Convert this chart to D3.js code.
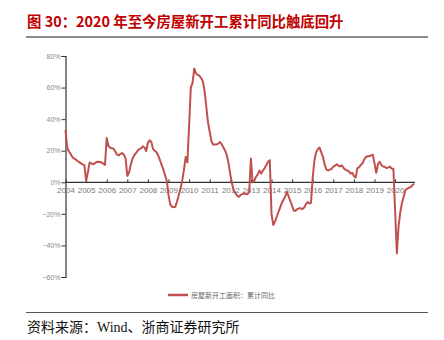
<!DOCTYPE html>
<html>
<head>
<meta charset="utf-8">
<script src="https://cdn.jsdelivr.net/npm/d3@7"></script>
<style>
  html, body { margin: 0; padding: 0; background: #fff; }
  svg { display: block; }
</style>
</head>
<body>
<svg id="chart" width="444" height="340"></svg>
<script>
// Monthly cumulative YoY growth of new housing starts (%), Jan 2004 – Dec 2020
const years = [2004, 2005, 2006, 2007, 2008, 2009, 2010, 2011, 2012,
               2013, 2014, 2015, 2016, 2017, 2018, 2019, 2020];
const v2004 = [33, 22, 19.5, 18, 16, 15, 14.5, 13.5, 12.8, 12, 11.3, 10.8];
const v2005 = [1, 6, 12.5, 12, 11.4, 12, 12.8, 13, 12.8, 12.5, 11.8, 11];
const v2006 = [28, 23, 22, 21.5, 21.3, 19.5, 17.5, 17, 18, 18.5, 17.5, 15];
const v2007 = [4, 6, 11, 15, 17, 18.5, 20, 21, 21.5, 22.8, 22, 19.8];
const v2008 = [25, 26.6, 25.5, 21, 20, 19, 17, 14, 11, 8, 4.5, 1];
const v2009 = [-8, -14, -15.5, -15.8, -15.5, -12, -8, -4, 1, 8, 16, 12.6];
const v2010 = [36, 60, 63, 72, 69, 68, 67.5, 66, 64, 58, 48, 38];
const v2011 = [32, 26, 24, 24, 24, 24.5, 25.5, 24, 22, 20, 17, 12];
const v2012 = [5, -1, -5, -7, -8.5, -9.3, -8, -7.5, -7, -7.5, -7.6, -6];
const v2013 = [15, 0, 1, 3.5, 5, 7.5, 5.5, 7.5, 9, 11, 13, 14];
const v2014 = [-20, -27, -25, -22, -19, -16, -13, -11, -9, -6, -9, -12];
const v2015 = [-15, -18, -18, -17, -16.5, -16.5, -17, -16, -14, -12.5, -13.5, -13];
const v2016 = [3, 14, 19, 21, 22, 19, 16, 11, 8, 7.5, 8, 8.5];
const v2017 = [10, 10.5, 11.4, 10.5, 10, 10.8, 9, 8, 7.5, 7, 5.5, 6];
const v2018 = [4, 3, 9, 9.5, 11, 12, 14.5, 16, 16.5, 16.5, 17, 17.5];
const v2019 = [12, 6, 11.5, 13, 11, 10, 9.8, 9, 9.3, 10, 8.6, 8.5];
const v2020 = [-18, -45, -28, -19, -13, -9, -5, -4, -3.5, -3, -2, -0.8];

const yTicks = [80, 60, 40, 20, 0, -20, -40, -60];
const yTickLabels = ["80%", "60%", "40%", "20%", "0%", "−20%", "−40%", "−60%"];

const titleText = "图 30：2020 年至今房屋新开工累计同比触底回升";
const legendText = "房屋新开工面积：累计同比";
const sourceText = "资料来源：Wind、浙商证券研究所";

const yearly = [v2004, v2005, v2006, v2007, v2008, v2009, v2010, v2011, v2012,
                v2013, v2014, v2015, v2016, v2017, v2018, v2019, v2020];
const series = [];
yearly.forEach(arr => arr.forEach(v => series.push({ i: series.length, v })));

const svg = d3.select("#chart");
const cjk = "'Noto Sans CJK SC', 'Noto Sans', sans-serif";

// Title and rule beneath it
svg.append("text")
  .attr("x", 27).attr("y", 27)
  .attr("font-family", cjk)
  .attr("font-size", 14.4)
  .attr("font-weight", "bold")
  .attr("fill", "#c00000")
  .text(titleText);
svg.append("line")
  .attr("x1", 26).attr("x2", 428)
  .attr("y1", 37).attr("y2", 37)
  .attr("stroke", "#8c8c8c").attr("stroke-width", 2);

// Scales
const x = d3.scaleLinear().domain([0, series.length - 1]).range([65.5, 414]);
const y = d3.scaleLinear().domain([-60, 80]).range([277, 56]);

// Y axis
const yAxis = d3.axisLeft(y)
  .tickValues(yTicks)
  .tickSize(4)
  .tickFormat((d, k) => yTickLabels[k]);
const gy = svg.append("g").attr("transform", "translate(65.5,0)").call(yAxis);
gy.select(".domain").attr("stroke", "#333").attr("stroke-width", 1.2);
gy.selectAll(".tick line").attr("stroke", "#333");
gy.selectAll(".tick text")
  .attr("fill", "#8a8a8a")
  .attr("font-family", "'Liberation Sans', Arial, sans-serif")
  .attr("font-size", 7)
  .attr("x", -5);

// X axis along the zero line, labelled at each January
const xAxis = d3.axisBottom(x)
  .tickValues(years.map((yr, k) => k * 12))
  .tickSize(-3)
  .tickSizeOuter(0)
  .tickFormat((d, k) => String(years[k]));
const gx = svg.append("g").attr("transform", `translate(0,${y(0)})`).call(xAxis);
gx.select(".domain").attr("stroke", "#333").attr("stroke-width", 1.2)
  .attr("d", `M${x(0)},0H${x(series.length - 1) + 1}`);
gx.selectAll(".tick line").attr("stroke", "#333");
gx.selectAll(".tick text")
  .attr("fill", "#7a7a7a")
  .attr("font-family", "'Liberation Sans', Arial, sans-serif")
  .attr("font-size", 8)
  .attr("y", 5);

// Data line
const line = d3.line().x(d => x(d.i)).y(d => y(d.v));
svg.append("path")
  .datum(series)
  .attr("fill", "none")
  .attr("stroke", "#c0504d")
  .attr("stroke-width", 2)
  .attr("stroke-linejoin", "round")
  .attr("d", line);

// Legend
svg.append("line")
  .attr("x1", 168).attr("x2", 188)
  .attr("y1", 295).attr("y2", 295)
  .attr("stroke", "#c0504d").attr("stroke-width", 2.5);
svg.append("text")
  .attr("x", 191).attr("y", 298)
  .attr("font-family", cjk)
  .attr("font-size", 7)
  .attr("fill", "#666")
  .text(legendText);

// Source note
svg.append("line")
  .attr("x1", 26).attr("x2", 428)
  .attr("y1", 312.5).attr("y2", 312.5)
  .attr("stroke", "#555").attr("stroke-width", 1);
svg.append("text")
  .attr("x", 27).attr("y", 332)
  .attr("font-family", "'Liberation Serif', 'Noto Sans CJK SC', serif")
  .attr("font-size", 14)
  .attr("fill", "#111")
  .text(sourceText);
</script>
</body>
</html>
